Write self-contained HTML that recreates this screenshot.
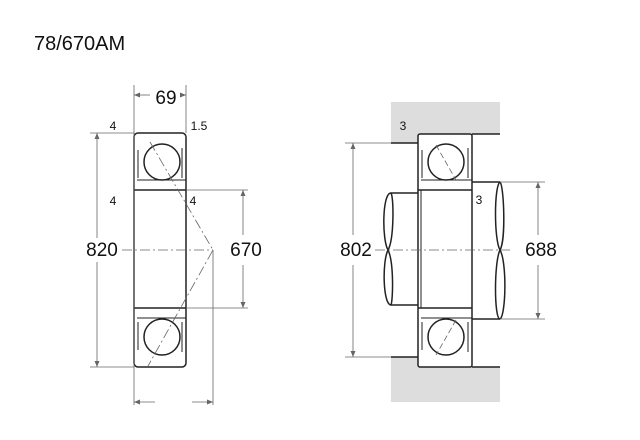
<!DOCTYPE html>
<html><head><style>body{margin:0;background:#fff}svg{display:block}</style></head><body>
<svg width="640" height="440" viewBox="0 0 640 440" xmlns="http://www.w3.org/2000/svg" font-family="Liberation Sans, sans-serif">
<rect width="640" height="440" fill="#fff"/>
<text x="34" y="50" font-size="20" fill="#111">78/670AM</text>
<g stroke="#222" fill="none" stroke-width="1">
<rect x="134" y="133" width="52" height="234" rx="4" stroke-width="1.5"/>
<line x1="134" y1="190" x2="186" y2="190" stroke-width="1.5"/>
<line x1="134" y1="308" x2="186" y2="308" stroke-width="1.5"/>
<line x1="137" y1="180" x2="186" y2="180"/>
<line x1="137" y1="318" x2="186" y2="318"/>
<path d="M138 150 v28 M182 148 v30 M138 322 v28 M182 322 v30"/>
<circle cx="162" cy="162" r="18" fill="#fff" stroke-width="1.5"/>
<circle cx="162" cy="337" r="18" fill="#fff" stroke-width="1.5"/>
<g stroke="#666" stroke-width="0.8">
<line x1="134" y1="85" x2="134" y2="405"/><line x1="186" y1="85" x2="186" y2="133"/>
<line x1="134" y1="95" x2="150" y2="95"/><line x1="180" y1="95" x2="186" y2="95"/>
<line x1="90" y1="133" x2="134" y2="133"/><line x1="90" y1="367" x2="134" y2="367"/>
<line x1="97" y1="133" x2="97" y2="238"/><line x1="97" y1="262" x2="97" y2="367"/>
<line x1="186" y1="190" x2="248" y2="190"/><line x1="186" y1="308" x2="248" y2="308"/>
<line x1="243" y1="190" x2="243" y2="235"/><line x1="243" y1="265" x2="243" y2="308"/>
<line x1="213" y1="250" x2="213" y2="405"/>
<line x1="134" y1="402" x2="155" y2="402"/><line x1="192" y1="402" x2="213" y2="402"/>
<line x1="122" y1="250" x2="213" y2="250" stroke-dasharray="10,3,2,3"/>
<polyline points="150,142 213,250 148,366" stroke-dasharray="10,3,2,3"/>
</g>
<rect x="391" y="102" width="109" height="32" fill="#ddd" stroke="none"/>
<rect x="391" y="134" width="27" height="9" fill="#ddd" stroke="none"/>
<rect x="391" y="367" width="109" height="35" fill="#ddd" stroke="none"/>
<rect x="391" y="357" width="27" height="10" fill="#ddd" stroke="none"/>
<line x1="472" y1="134" x2="500" y2="134" stroke-width="1.5"/>
<line x1="472" y1="367" x2="500" y2="367" stroke-width="1.5"/>
<line x1="391" y1="143" x2="418" y2="143" stroke-width="1.5"/>
<line x1="391" y1="357" x2="418" y2="357" stroke-width="1.5"/>
<rect x="418" y="134" width="54" height="233" rx="2" stroke-width="1.5"/>
<line x1="418" y1="190" x2="472" y2="190" stroke-width="1.5"/>
<line x1="418" y1="308" x2="472" y2="308" stroke-width="1.5"/>
<line x1="421" y1="180" x2="472" y2="180"/><line x1="421" y1="318" x2="472" y2="318"/>
<line x1="421" y1="190" x2="421" y2="308"/>
<path d="M422 150 v28 M468 148 v30 M422 322 v28 M468 322 v30"/>
<circle cx="446" cy="162" r="18" fill="#fff" stroke-width="1.5"/>
<circle cx="446" cy="337" r="18" fill="#fff" stroke-width="1.5"/>
<path d="M391 193 H418 M391 305 H418 M472 182 H500 M472 319 H500" stroke-width="1.5"/>
<path d="M391 193 C382 193 382 240 388 250 C394 262 393 300 391 305" stroke-width="1.5"/>
<path d="M391 193 C394 198 394 240 388 250 C382 262 383 305 391 305" stroke-width="1.5"/>
<path d="M500 182 C504 186 506 240 500 250 C494 262 494 319 500 319" stroke-width="1.5"/>
<path d="M500 182 C494 186 494 240 500 250 C507 262 506 315 500 319" stroke-width="1.5"/>
<g stroke="#666" stroke-width="0.8">
<line x1="345" y1="143" x2="391" y2="143"/><line x1="345" y1="357" x2="391" y2="357"/>
<line x1="353" y1="143" x2="353" y2="235"/><line x1="353" y1="265" x2="353" y2="357"/>
<line x1="500" y1="182" x2="545" y2="182"/><line x1="500" y1="319" x2="545" y2="319"/>
<line x1="538" y1="182" x2="538" y2="235"/><line x1="538" y1="265" x2="538" y2="319"/>
<line x1="375" y1="250" x2="510" y2="250" stroke-dasharray="10,3,2,3"/>
<line x1="436" y1="145" x2="456" y2="180" stroke-dasharray="6,3"/>
<line x1="456" y1="320" x2="436" y2="355" stroke-dasharray="6,3"/>
</g>
</g>
<g fill="#666">
<path d="M134 95 l6 -2.5 v5z M186 95 l-6 -2.5 v5z M97 133 l-2.5 6 h5z M97 367 l-2.5 -6 h5z M243 190 l-2.5 6 h5z M243 308 l-2.5 -6 h5z M134 402 l6 -2.5 v5z M213 402 l-6 -2.5 v5z M353 143 l-2.5 6 h5z M353 357 l-2.5 -6 h5z M538 182 l-2.5 6 h5z M538 319 l-2.5 -6 h5z"/>
</g>
<g fill="#111">
<text x="166" y="104" font-size="19" text-anchor="middle">69</text>
<text x="113" y="130" font-size="12" text-anchor="middle">4</text>
<text x="199" y="130" font-size="12" text-anchor="middle">1.5</text>
<text x="113" y="205" font-size="12" text-anchor="middle">4</text>
<text x="193" y="205" font-size="12" text-anchor="middle">4</text>
<text x="102" y="256" font-size="19" text-anchor="middle">820</text>
<text x="246" y="256" font-size="19" text-anchor="middle">670</text>
<text x="403" y="130" font-size="12" text-anchor="middle">3</text>
<text x="479" y="204" font-size="12" text-anchor="middle">3</text>
<text x="356" y="256" font-size="19" text-anchor="middle">802</text>
<text x="541" y="256" font-size="19" text-anchor="middle">688</text>
</g>
</svg>
</body></html>
